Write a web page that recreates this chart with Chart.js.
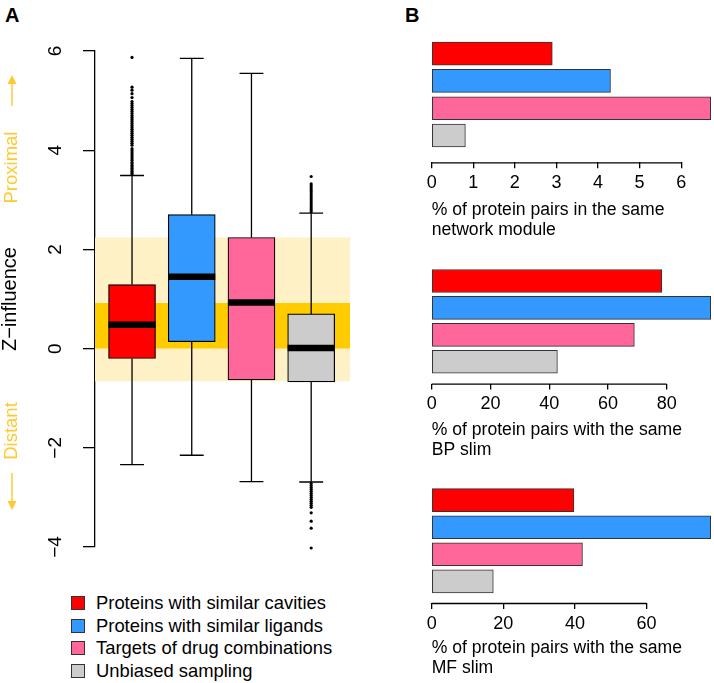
<!DOCTYPE html>
<html><head><meta charset="utf-8">
<script src="https://cdn.jsdelivr.net/npm/chart.js@4.4.0/dist/chart.umd.min.js"></script>
<style>
html,body{margin:0;padding:0;background:#fff;}
body{width:714px;height:683px;position:relative;overflow:hidden;font-family:"Liberation Sans",Arial,sans-serif;color:#000;}
canvas{position:absolute;}
.lbl{position:absolute;font-weight:bold;font-size:20px;line-height:20px;}
#legend{position:absolute;left:71px;top:591.8px;font-size:18.4px;}
.item{height:22.5px;display:flex;align-items:center;white-space:nowrap;}
.sw{width:12px;height:12px;border:1px solid #333;margin-right:11px;flex:none;}
</style></head><body>
<div class="lbl" style="left:5px;top:5.4px">A</div>
<div class="lbl" style="left:405px;top:5.4px">B</div>
<canvas id="cA" width="360" height="580" style="left:0;top:0"></canvas>
<canvas id="cB1" width="314" height="240" style="left:400px;top:0"></canvas>
<canvas id="cB2" width="314" height="220.7" style="left:400px;top:240px"></canvas>
<canvas id="cB3" width="314" height="218.3" style="left:400px;top:460px"></canvas>
<div id="legend"></div>
<script>
// ---------- data ----------
const categories = ["Proteins with similar cavities","Proteins with similar ligands","Targets of drug combinations","Unbiased sampling"];
const colors = ["#FF0000","#3399FF","#FF6699","#CCCCCC"];

// Panel A box plot statistics (Z-influence)
const boxQ1      = [-0.20, 0.14, -0.63, -0.67];
const boxMedian  = [0.48, 1.45, 0.93, 0.01];
const boxQ3      = [1.29, 2.70, 2.24, 0.70];
const whiskerLow = [-2.34, -2.15, -2.68, -2.69];
const whiskerHigh= [3.49, 5.85, 5.55, 2.73];
const outliersCavities = [5.87,5.27,5.21,5.14,5.06,4.98,4.94,4.90,4.86,4.82,4.78,4.74,4.70,4.66,4.62,4.58,4.54,4.50,4.46,4.42,4.38,4.34,4.30,4.26,4.22,4.18,4.14,4.10,4.03,3.99,3.95,3.91,3.87,3.83,3.79,3.75,3.72,3.69,3.66,3.63,3.60,3.57,3.54,3.52];
const outliersLigands = [];
const outliersDrugs = [];
const outliersUnbiased = [3.47,3.32,3.28,3.24,3.20,3.16,3.12,3.08,3.04,3.00,2.96,2.92,2.88,2.84,2.80,2.76,
  -2.72,-2.76,-2.80,-2.84,-2.88,-2.92,-2.96,-3.00,-3.04,-3.08,-3.12,-3.16,-3.20,-3.31,-3.48,-3.62,-4.02];
const bandOuter = [-0.66, 2.24];
const bandInner = [0, 0.92];

// Panel B bar values (%)
const moduleValues = [2.90, 4.30, 6.71, 0.81];
const bpValues     = [78.3, 95.0, 69.0, 42.8];
const mfValues     = [39.7, 77.9, 42.1, 17.2];
const moduleTitle = ["% of protein pairs in the same","network module"];
const bpTitle     = ["% of protein pairs with the same","BP slim"];
const mfTitle     = ["% of protein pairs with the same","MF slim"];

// ---------- setup ----------
Chart.defaults.font.family = '"Liberation Sans", Arial, sans-serif';
Chart.defaults.color = '#000';
const LINE = 1.3;
const xMinA = 0.38, xMaxA = 4.65;
const halfBox = 0.394, halfCap = 0.2;

const whiskerData = [];
const capData = [];
const medianData = [];
const outlierData = [];
const outlierGroups = [outliersCavities, outliersLigands, outliersDrugs, outliersUnbiased];
categories.forEach((c, i) => {
  const x = i + 1;
  whiskerData.push({x, y: boxQ3[i]}, {x, y: whiskerHigh[i]}, {x, y: null},
                   {x, y: boxQ1[i]}, {x, y: whiskerLow[i]}, {x, y: null});
  capData.push({x: x - halfCap, y: whiskerHigh[i]}, {x: x + halfCap, y: whiskerHigh[i]}, {x, y: null},
               {x: x - halfCap, y: whiskerLow[i]}, {x: x + halfCap, y: whiskerLow[i]}, {x, y: null});
  medianData.push({x: x - halfBox, y: boxMedian[i]}, {x: x + halfBox, y: boxMedian[i]}, {x, y: null});
  outlierGroups[i].forEach(v => outlierData.push({x, y: v}));
});

const sideLabels = {
  id: 'sideLabels',
  afterDraw(chart) {
    const ctx = chart.ctx;
    const gold = '#FFC830';
    ctx.save();
    ctx.fillStyle = gold; ctx.strokeStyle = gold; ctx.lineWidth = 1.4;
    ctx.font = '18.5px "Liberation Sans", Arial, sans-serif';
    ctx.textAlign = 'center'; ctx.textBaseline = 'middle';
    const tx = 12;
    [['Proximal', 167.5], ['Distant', 431]].forEach(([t, y]) => {
      ctx.save(); ctx.translate(tx, y); ctx.rotate(-Math.PI / 2); ctx.fillText(t, 0, 0); ctx.restore();
    });
    const arrow = (y0, y1) => {
      const dir = Math.sign(y1 - y0);
      ctx.beginPath(); ctx.moveTo(tx, y0); ctx.lineTo(tx, y1 - dir * 2); ctx.stroke();
      ctx.beginPath(); ctx.moveTo(tx, y1); ctx.lineTo(tx - 4.5, y1 - dir * 9); ctx.lineTo(tx + 4.5, y1 - dir * 9); ctx.closePath(); ctx.fill();
    };
    arrow(106, 75);
    arrow(473, 510);
    ctx.restore();
  }
};

new Chart(document.getElementById('cA'), {
  type: 'bar',
  data: {
    datasets: [
      {type: 'line', data: [{x: xMinA, y: bandOuter[1]}, {x: xMaxA, y: bandOuter[1]}], fill: {value: bandOuter[0]},
       backgroundColor: '#FEF1C6', borderWidth: 0, pointRadius: 0, order: 10},
      {type: 'line', data: [{x: xMinA, y: bandInner[1]}, {x: xMaxA, y: bandInner[1]}], fill: {value: bandInner[0]},
       backgroundColor: '#FFCC00', borderWidth: 0, pointRadius: 0, order: 9},
      {type: 'line', data: whiskerData, borderColor: '#000', borderWidth: LINE, pointRadius: 0, spanGaps: false, fill: false, order: 8},
      {type: 'line', data: capData, borderColor: '#000', borderWidth: LINE, pointRadius: 0, spanGaps: false, fill: false, order: 7},
      {type: 'bar', data: categories.map((c, i) => ({x: i + 1, y: [boxQ1[i], boxQ3[i]]})),
       backgroundColor: colors, borderColor: '#000', borderWidth: 1.2, borderSkipped: false, barThickness: 47, order: 5},
      {type: 'line', data: medianData, borderColor: '#000', borderWidth: 6.5, borderCapStyle: 'butt', pointRadius: 0, spanGaps: false, fill: false, order: 2},
      {type: 'scatter', data: outlierData, pointRadius: 1.6, backgroundColor: '#000', borderWidth: 0, order: 1, clip: false}
    ]
  },
  options: {
    responsive: false, animation: false,
    layout: {padding: {left: 0, top: 51, right: 10, bottom: 33}},
    plugins: {legend: {display: false}, tooltip: {enabled: false}},
    scales: {
      x: {type: 'linear', min: xMinA, max: xMaxA, display: false, offset: false},
      y: {type: 'linear', min: -4, max: 6,
          ticks: {stepSize: 2, minRotation: 90, maxRotation: 90, crossAlign: 'center', padding: 16, color: '#000', font: {size: 19},
                  callback: v => (v < 0 ? '\u2212' : '') + Math.abs(v)},
          grid: {drawOnChartArea: false, drawTicks: true, tickLength: 12, color: '#000', lineWidth: LINE},
          border: {display: true, color: '#000', width: LINE},
          title: {display: true, text: 'Z\u2212influence', color: '#000', font: {size: 20, lineHeight: 1.0}, padding: 0},
          afterFit: s => { s.width = 95; }}
    }
  },
  plugins: [sideLabels]
});

// ---------- Panel B ----------
const axisLine = {
  id: 'axisLine',
  afterDraw(chart) {
    const s = chart.scales.x, ctx = chart.ctx;
    const t = s.ticks;
    ctx.save();
    ctx.strokeStyle = '#000'; ctx.lineWidth = LINE;
    ctx.beginPath();
    ctx.moveTo(s.getPixelForValue(t[0].value), s.top + 0.5);
    ctx.lineTo(s.getPixelForValue(t[t.length - 1].value), s.top + 0.5);
    ctx.stroke();
    ctx.restore();
  }
};

function makeBar(id, values, step, title, yMax, padTop, axisH) {
  new Chart(document.getElementById(id), {
    type: 'bar',
    data: {datasets: [{
      data: values.map((v, i) => ({x: v, y: i + 1})),
      backgroundColor: colors, borderColor: '#333', borderWidth: 1, borderSkipped: false, barThickness: 23, clip: false
    }]},
    options: {
      indexAxis: 'y', responsive: false, animation: false,
      layout: {padding: {left: 31.7, right: 3.3, top: padTop, bottom: 0}},
      plugins: {legend: {display: false}, tooltip: {enabled: false}},
      scales: {
        y: {type: 'linear', reverse: true, min: 0.3, max: yMax, display: false, offset: false},
        x: {type: 'linear', min: 0, max: Math.max(...values), offset: false,
            ticks: {stepSize: step, includeBounds: false, color: '#000', font: {size: 18}, padding: 4, maxRotation: 0},
            grid: {drawOnChartArea: false, drawTicks: true, tickLength: 6, color: '#000', lineWidth: LINE},
            border: {display: false},
            title: {display: true, text: title, align: 'start', color: '#000', font: {size: 17.6, lineHeight: 1.13}, padding: 0},
            afterFit: s => { s.height = axisH; }}
      }
    },
    plugins: [axisLine]
  });
}
makeBar('cB1', moduleValues, 1, moduleTitle, 4.98, 34.5, 77.7);
makeBar('cB2', bpValues, 20, bpTitle, 4.81, 22.1, 76.4);
makeBar('cB3', mfValues, 20, mfTitle, 4.8, 21.2, 75);

// ---------- legend ----------
const lg = document.getElementById('legend');
categories.forEach((c, i) => {
  const d = document.createElement('div'); d.className = 'item';
  const sw = document.createElement('span'); sw.className = 'sw'; sw.style.background = colors[i];
  const tx = document.createElement('span'); tx.textContent = c;
  d.appendChild(sw); d.appendChild(tx); lg.appendChild(d);
});
</script>
</body></html>
